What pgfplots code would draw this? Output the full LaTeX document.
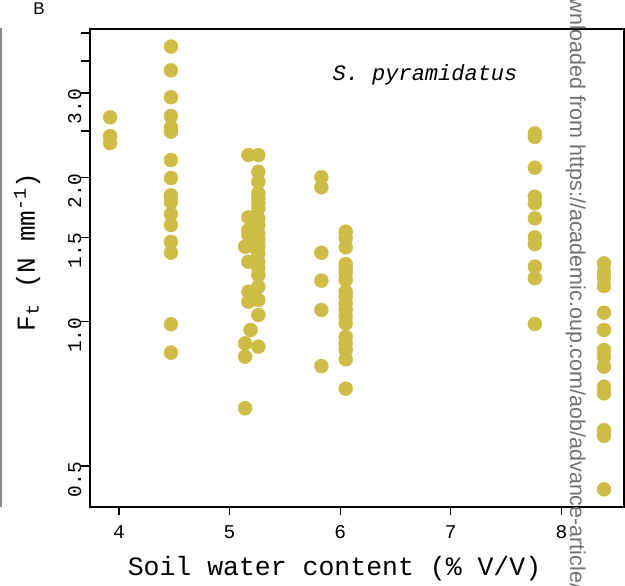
\documentclass[border=0pt]{standalone}
\usepackage{fontspec}
\setmainfont{Liberation Mono}
\newfontfamily\sansfont{Liberation Sans}
\usepackage{pgfplots}
\pgfplotsset{compat=1.18}
\definecolor{ptcol}{RGB}{206,188,70}
\definecolor{wmgray}{RGB}{112,112,112}
\newcommand{\tf}{\fontsize{19.5}{22}\selectfont}

% F_t against soil water content, log y
\pgfplotstableread{
x y
3.92 2.67
3.92 2.44
3.92 2.36
4.47 3.75
4.47 3.345
4.47 2.94
4.47 2.686
4.47 2.544
4.47 2.491
4.47 2.174
4.47 1.994
4.47 1.835
4.47 1.777
4.47 1.677
4.47 1.591
4.47 1.467
4.47 1.393
4.47 0.988
4.47 0.862
5.17 2.227
5.26 2.227
5.26 2.055
5.26 1.959
5.26 1.853
5.26 1.809
5.26 1.766
5.26 1.724
5.17 1.651
5.26 1.644
5.26 1.591
5.17 1.553
5.17 1.517
5.26 1.529
5.26 1.481
5.14 1.434
5.20 1.439
5.26 1.434
5.26 1.389
5.17 1.334
5.26 1.334
5.26 1.292
5.26 1.251
5.17 1.155
5.26 1.183
5.17 1.101
5.26 1.110
5.26 1.033
5.19 0.961
5.14 0.901
5.26 0.887
5.14 0.845
5.14 0.660
5.83 2.001
5.83 1.907
5.83 1.393
5.83 1.218
5.83 1.058
5.83 0.808
6.05 1.541
6.05 1.493
6.05 1.430
6.05 1.319
6.05 1.292
6.05 1.262
6.05 1.222
6.05 1.155
6.05 1.128
6.05 1.092
6.05 1.058
6.05 1.024
6.05 0.992
6.05 0.930
6.05 0.901
6.05 0.873
6.05 0.835
6.05 0.725
7.76 2.47
7.76 2.43
7.76 2.095
7.76 1.823
7.76 1.766
7.76 1.643
7.76 1.500
7.76 1.452
7.76 1.303
7.76 1.232
7.76 0.989
8.385 1.324
8.385 1.270
8.385 1.234
8.385 1.187
8.385 1.044
8.385 0.961
8.385 0.873
8.385 0.844
8.385 0.806
8.385 0.732
8.385 0.709
8.385 0.594
8.385 0.578
8.385 0.447
}\ftdata

\begin{document}
\begin{tikzpicture}
\useasboundingbox (-90pt,-79pt) rectangle (535pt,507pt);
\begin{axis}[
  at={(0pt,0pt)}, anchor=south west,
  scale only axis, width=534pt, height=478pt,
  ymode=log,
  xmin=3.738, xmax=8.566, ymin=0.4106, ymax=4.08,
  xtick={4,5,6,7,8},
  xticklabels={{\tf 4},{\tf 5},{\tf 6},{\tf 7},{\tf 8}},
  ytick={0.5,1,1.5,2,2.5,3,3.5,4},
  yticklabels={{\tf 0.5},{\tf 1.0},{\tf 1.5},{\tf 2.0},,{\tf 3.0},,},
  yminorticks=false, xminorticks=false,
  xtick pos=bottom, ytick pos=left,
  tick align=outside, major tick length=8.5pt,
  axis line style={line width=1.3pt},
  every tick/.style={line width=1.3pt, black},
  yticklabel style={rotate=90, anchor=south, inner sep=0pt, xshift=-13.5pt},
  xticklabel style={anchor=north, inner sep=0pt, yshift=-9.5pt},
  clip=false,
]
\addplot[only marks, mark=*, mark size=7pt, color=ptcol, mark options={draw=none, fill=ptcol}] table[x=x, y=y] {\ftdata};
\end{axis}
\node[anchor=base, font=\fontsize{26.5}{30}\selectfont] at (244.5pt,-69pt) {Soil water content (\% V/V)};
\node[anchor=base, rotate=90, font=\fontsize{26}{30}\selectfont] at (-55pt,255pt) {F\textsubscript{t} (N mm\textsuperscript{-1})};
\node[anchor=base, font=\fontsize{22}{26}\selectfont\itshape] at (335pt,426.3pt) {S. pyramidatus};
\node[anchor=base, font=\sansfont\fontsize{17}{20}\selectfont] at (-51pt,492pt) {B};
\draw[line width=1.2pt, gray!90] (-89pt,0pt) -- (-89pt,479pt);
\begin{scope}
\clip (-90pt,-79pt) rectangle (535pt,507pt);
\node[anchor=base west, rotate=-90, inner sep=0pt, text=wmgray, font=\sansfont\fontsize{21.5}{24}\selectfont] at (480pt,537pt) {Downloaded from https://academic.oup.com/aob/advance-article/doi/10.1093/aob/};
\end{scope}
\end{tikzpicture}
\end{document}
